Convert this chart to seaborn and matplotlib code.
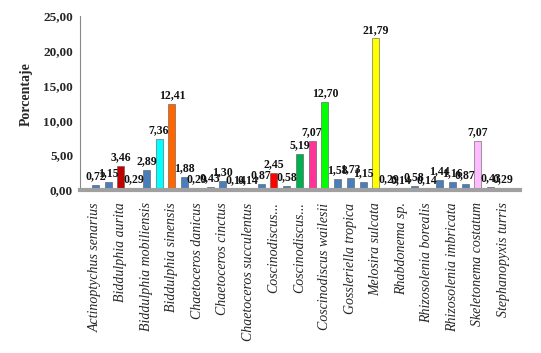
import matplotlib
matplotlib.use("Agg")
import matplotlib.pyplot as plt
import seaborn as sns
import pandas as pd

names = ["Actinoptychus senarius", "", "Biddulphia aurita", "", "Biddulphia mobiliensis", "",
         "Biddulphia sinensis", "", "Chaetoceros danicus", "", "Chaetoceros cinctus", "",
         "Chaetoceros succulentus", "", "Coscinodiscus...", "", "Coscinodiscus...", "",
         "Coscinodiscus wailesii", "", "Gossleriella tropica", "", "Melosira sulcata", "",
         "Rhabdonema sp.", "", "Rhizosolenia borealis", "", "Rhizosolenia imbricata", "",
         "Skeletonema costatum", "", "Stephanopyxis turris"]
values = [0.72, 1.15, 3.46, 0.29, 2.89, 7.36, 12.41, 1.88, 0.29, 0.43, 1.30, 0.14, 0.14,
          0.87, 2.45, 0.58, 5.19, 7.07, 12.70, 1.58, 1.73, 1.15, 21.79, 0.29, 0.14, 0.58,
          0.14, 1.44, 1.16, 0.87, 7.07, 0.43, 0.29]
blue = "#4A7EBB"
colors = [blue, blue, "#C00000", blue, blue, "#00FFFF", "#FF6600", blue, blue, blue, blue,
          blue, blue, blue, "#FF0000", blue, "#00B050", "#FF3399", "#00FF00", blue, blue,
          blue, "#FFFF00", blue, blue, blue, blue, blue, blue, blue, "#FFBBFF", blue, blue]

ids = [str(i) for i in range(len(values))]
df = pd.DataFrame({"id": ids, "valor": values})

sns.set_style("white")
plt.rcParams["font.family"] = ["Liberation Serif", "DejaVu Serif"]

fig = plt.figure(figsize=(5.41, 3.53), dpi=100)
ax = fig.add_axes([0.148, 0.462, 0.813, 0.493])
sns.barplot(data=df, x="id", y="valor", hue="id", palette=colors, legend=False,
            saturation=1, width=0.55, edgecolor="#555555", linewidth=0.4, ax=ax)

for i, v in enumerate(values):
    ax.text(i, v + 0.35, f"{v:.2f}".replace(".", ","), ha="center", va="bottom",
            fontsize=8.5, fontweight="bold", color="#111111")

ax.set_ylim(0, 25)
ax.set_xlim(-1.2, 33.3)
yt = [0, 5, 10, 15, 20, 25]
ax.set_yticks(yt)
ax.set_yticklabels([f"{t:.2f}".replace(".", ",") for t in yt], fontsize=9.5, fontweight="bold")
ax.set_xticks(range(len(values)))
ax.set_xticklabels(names, rotation=90, fontsize=10, fontstyle="italic", va="top", ha="center")
ax.tick_params(axis="both", length=0, pad=5)
ax.tick_params(axis="x", pad=9)
ax.set_xlabel("")
ax.set_ylabel("Porcentaje", fontsize=10, fontweight="bold")
ax.yaxis.set_label_coords(-0.108, 0.55)

for s in ["top", "right"]:
    ax.spines[s].set_visible(False)
ax.spines["left"].set_color("#888888")
ax.spines["left"].set_linewidth(0.8)
ax.spines["bottom"].set_color("#A0A0A0")
ax.spines["bottom"].set_linewidth(3)

fig.savefig("out.png", dpi=100)
